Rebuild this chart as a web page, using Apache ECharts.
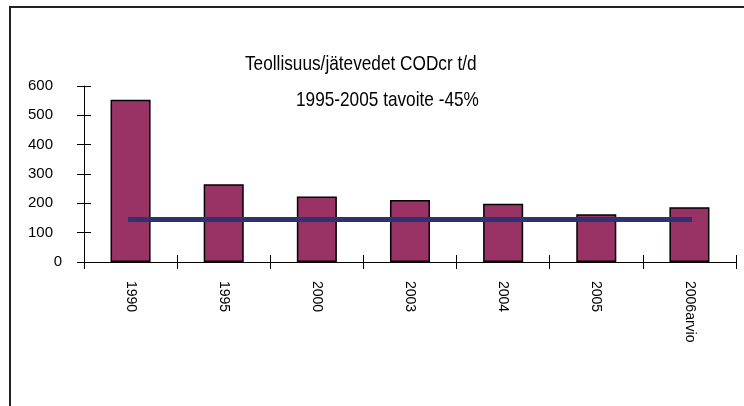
<!DOCTYPE html>
<html>
<head>
<meta charset="utf-8">
<script src="https://cdn.jsdelivr.net/npm/echarts@6/dist/echarts.min.js"></script>
<style>
html,body{margin:0;padding:0;background:#fff;}
#chart{width:744px;height:406px;}
</style>
</head>
<body>
<div id="chart"></div>
<script>
const categories = ['1990', '1995', '2000', '2003', '2004', '2005', '2006arvio'];
const codValues = [553, 265, 223, 211, 199, 163, 187];
const targetValues = [145, 145, 145, 145, 145, 145, 145];
const yTicks = [0, 100, 200, 300, 400, 500, 600];
const titleLines = ['Teollisuus/jätevedet CODcr t/d', '1995-2005 tavoite -45%'];

const FONT = '"Liberation Sans", Arial, sans-serif';
const chart = echarts.init(document.getElementById('chart'), null, {renderer: 'canvas'});

chart.setOption({
  animation: false,
  backgroundColor: '#fff',
  graphic: [
    {type: 'rect', shape: {x: 10, y: 7, width: 760, height: 420},
     style: {fill: 'none', stroke: '#222', lineWidth: 2}, silent: true, z: 0},
    {type: 'text', x: 245, y: 54, scaleX: 0.82, silent: true,
     style: {text: titleLines[0], font: '21px ' + FONT, fill: '#000', textAlign: 'left', textVerticalAlign: 'top'}},
    {type: 'text', x: 296, y: 90, scaleX: 0.82, silent: true,
     style: {text: titleLines[1], font: '21px ' + FONT, fill: '#000', textAlign: 'left', textVerticalAlign: 'top'}}
  ],
  grid: {left: 84, right: 8, top: 86, bottom: 144, containLabel: false},
  xAxis: [
    {type: 'category', data: categories, position: 'bottom',
     axisLine: {show: true, lineStyle: {color: '#000', width: 1}},
     axisTick: {show: true, alignWithLabel: false, length: 7, lineStyle: {color: '#000'}},
     axisLabel: {rotate: -90, margin: 19, color: '#000', fontFamily: FONT, fontSize: 14, interval: 0},
     splitLine: {show: false}},
    {type: 'category', data: categories, position: 'bottom', gridIndex: 0,
     axisLine: {show: false},
     axisTick: {show: true, inside: true, length: 7, lineStyle: {color: '#000'}},
     axisLabel: {show: false}, splitLine: {show: false}}
  ],
  yAxis: [
    {type: 'value', min: yTicks[0], max: yTicks[yTicks.length - 1], interval: 100,
     axisLine: {show: true, lineStyle: {color: '#000', width: 1}},
     axisTick: {show: true, length: 7, lineStyle: {color: '#000'}},
     axisLabel: {color: '#000', fontFamily: FONT, fontSize: 15, margin: 31,
                 formatter: v => (v === 0 ? '' : String(v))},
     splitLine: {show: false}},
    {type: 'value', min: yTicks[0], max: yTicks[yTicks.length - 1], interval: 100, position: 'left',
     axisLine: {show: false},
     axisTick: {show: true, inside: true, length: 7, lineStyle: {color: '#000'}},
     axisLabel: {show: true, color: '#000', fontFamily: FONT, fontSize: 15, margin: 22,
                 formatter: v => (v === 0 ? '0' : '')},
     splitLine: {show: false}}
  ],
  series: [
    {type: 'bar', data: codValues, barWidth: '43%', xAxisIndex: 0, yAxisIndex: 0,
     itemStyle: {color: '#993366', borderColor: '#000', borderWidth: 1.5}, z: 2},
    {type: 'line', data: targetValues, xAxisIndex: 0, yAxisIndex: 0, showSymbol: false, symbol: 'none',
     lineStyle: {color: '#2E3172', width: 5, cap: 'square'}, z: 3}
  ]
});
</script>
</body>
</html>
